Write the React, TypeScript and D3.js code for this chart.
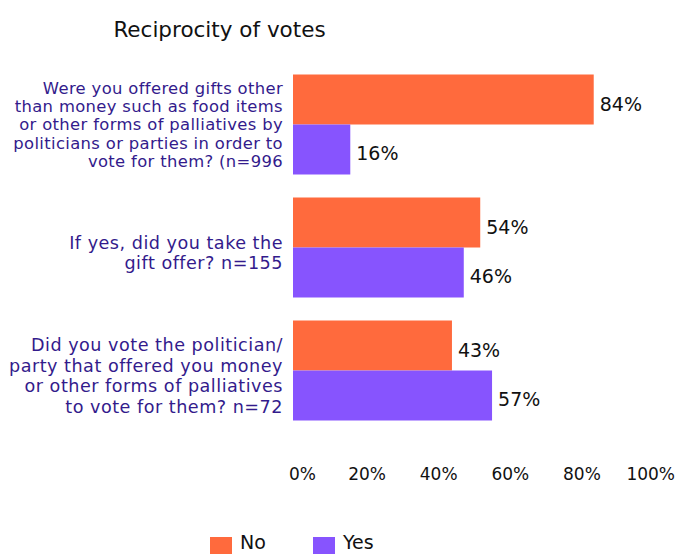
import React from "react";
import * as d3 from "d3";

const categories = [
  "Were you offered gifts other|than money such as food items|or other forms of palliatives by|politicians or parties in order to|vote for them? (n=996",
  "If yes, did you take the|gift offer? n=155",
  "Did you vote the politician/|party that offered you money|or other forms of palliatives|to vote for them? n=72",
];
const seriesNames = ["No", "Yes"];
const noValues = [84, 52.3, 44.4];
const yesValues = [16, 47.7, 55.6];
const noLabels = ["84%", "54%", "43%"];
const yesLabels = ["16%", "46%", "57%"];
const tickValues = [0, 20, 40, 60, 80, 100];
const tickLabels = ["0%", "20%", "40%", "60%", "80%", "100%"];
const title = "Reciprocity of votes";

const W = 675;
const H = 554;
const ORANGE = "#FF6A3D";
const PURPLE = "#8754FE";
const LABEL = "#331B8C";
const FONT = "'DejaVu Sans', sans-serif";

export default function App() {
  const x = d3.scaleLinear().domain([0, 100]).range([293, 651]);
  const y = d3
    .scaleBand<number>()
    .domain([0, 1, 2])
    .range([63, 432])
    .paddingInner(0.187)
    .paddingOuter(0.0935);
  const sub = d3.scaleBand<string>().domain(seriesNames).range([0, y.bandwidth()]);
  const colors = d3.scaleOrdinal<string, string>().domain(seriesNames).range([ORANGE, PURPLE]);
  const series = [
    { name: "No", values: noValues, labels: noLabels },
    { name: "Yes", values: yesValues, labels: yesLabels },
  ];
  const catFont = [16.4, 17.6, 17.6];
  const catLS = [0.35, 0.5, 0.5];
  const catLH = [18.3, 20.3, 20.6];

  return (
    <svg
      width={W}
      height={H}
      style={{ position: "absolute", left: 0, top: 0, background: "#fff" }}
      fontFamily={FONT}
    >
      <text x={219.5} y={37} textAnchor="middle" fontSize={21.5} fill="#111">
        {title}
      </text>
      {categories.map((c, i) => {
        const lines = c.split("|");
        const cy = (y(i) as number) + y.bandwidth() / 2 + (i === 0 ? 0 : 5);
        const lh = catLH[i];
        const first = cy - ((lines.length - 1) * lh) / 2;
        return (
          <text key={i} textAnchor="end" fontSize={catFont[i]} letterSpacing={catLS[i]} fill={LABEL}>
            {lines.map((l, j) => (
              <tspan key={j} x={283} y={first + j * lh + catFont[i] * 0.36}>
                {l}
              </tspan>
            ))}
          </text>
        );
      })}
      {series.map((s) =>
        s.values.map((v, i) => {
          const by = (y(i) as number) + (sub(s.name) as number);
          return (
            <g key={s.name + i}>
              <rect
                x={x(0)}
                y={by}
                width={x(v) - x(0)}
                height={sub.bandwidth()}
                fill={colors(s.name)}
              />
              <text x={x(v) + 6} y={by + sub.bandwidth() / 2 + 11} fontSize={19} fill="#111">
                {s.labels[i]}
              </text>
            </g>
          );
        })
      )}
      {tickValues.map((t, i) => {
        const last = i === tickValues.length - 1;
        const firstT = i === 0;
        return (
          <text
            key={t}
            x={firstT ? x(t) - 4 : last ? W : x(t) + 2.5}
            y={480}
            textAnchor={firstT ? "start" : last ? "end" : "middle"}
            fontSize={17}
            fill="#111"
          >
            {tickLabels[i]}
          </text>
        );
      })}
      {seriesNames.map((n, i) => {
        const lx = 210 + i * 103;
        return (
          <g key={n}>
            <rect x={lx} y={537} width={22} height={17} fill={colors(n)} />
            <text x={lx + 30} y={549} fontSize={19} fill="#111">
              {n}
            </text>
          </g>
        );
      })}
    </svg>
  );
}
